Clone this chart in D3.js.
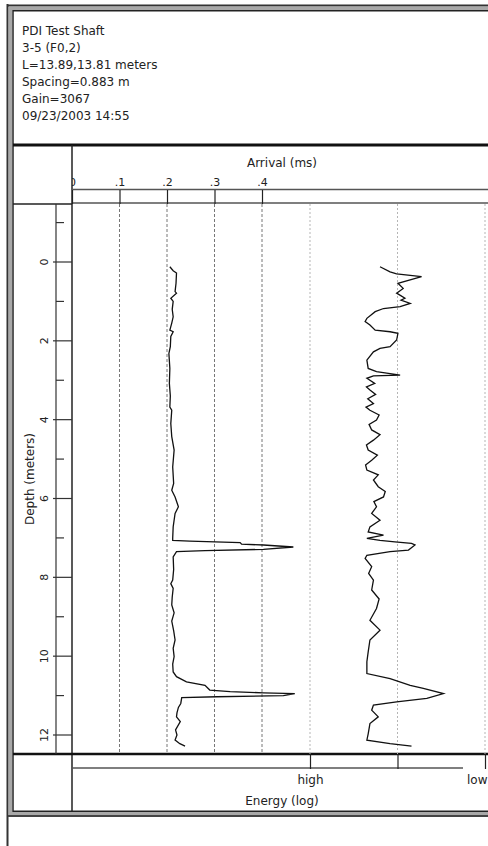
<!DOCTYPE html>
<html>
<head>
<meta charset="utf-8">
<script src="https://cdn.jsdelivr.net/npm/d3@7/dist/d3.min.js"></script>
<style>
  body { margin: 0; background: #fff; }
  svg { display: block; }
  text { font-family: "DejaVu Sans", Verdana, sans-serif; fill: #222; }
</style>
</head>
<body>
<svg id="chart" width="488" height="846"></svg>
<script>
// header lines
const headerLines = ["PDI Test Shaft", "3-5 (F0,2)", "L=13.89,13.81 meters",
  "Spacing=0.883 m", "Gain=3067", "09/23/2003 14:55"];

// first arrival time (ms) vs depth (m)
const arrivalDepth = [0.12, 0.22, 0.28, 0.54, 0.75, 0.79, 0.92, 1.00, 1.20, 1.39, 1.55, 1.73, 1.77, 1.89,
  2.15, 2.32, 2.70, 3.08, 3.40, 3.68, 3.76, 4.10, 4.43, 4.77, 5.20, 5.62, 5.79, 5.96, 6.21, 6.38, 6.72,
  7.01, 7.06, 7.08, 7.12, 7.16, 7.18, 7.23, 7.29, 7.32, 7.35, 7.48, 7.80, 8.07, 8.16, 8.28, 8.50, 8.70,
  8.90, 9.11, 9.35, 9.59, 9.80, 10.01, 10.20, 10.40, 10.52, 10.65, 10.74, 10.86, 10.90, 10.93, 10.95,
  11.00, 11.03, 11.05, 11.20, 11.30, 11.44, 11.54, 11.66, 11.87, 12.00, 12.13, 12.22, 12.28];
const arrivalTime = [0.206, 0.213, 0.220, 0.219, 0.217, 0.220, 0.208, 0.213, 0.211, 0.213, 0.210, 0.206,
  0.213, 0.208, 0.207, 0.204, 0.206, 0.205, 0.207, 0.206, 0.210, 0.208, 0.210, 0.215, 0.212, 0.214,
  0.210, 0.217, 0.224, 0.217, 0.213, 0.212, 0.212, 0.248, 0.354, 0.357, 0.403, 0.466, 0.403, 0.280,
  0.220, 0.213, 0.214, 0.212, 0.208, 0.213, 0.211, 0.210, 0.215, 0.210, 0.214, 0.217, 0.213, 0.215,
  0.212, 0.213, 0.220, 0.241, 0.280, 0.290, 0.333, 0.403, 0.469, 0.445, 0.305, 0.231, 0.229, 0.224,
  0.221, 0.220, 0.228, 0.218, 0.221, 0.217, 0.227, 0.238];

// relative energy (dB below "high") vs depth (m)
const energyDepth = [0.12, 0.25, 0.30, 0.37, 0.54, 0.67, 0.79, 0.92, 0.97, 1.05, 1.13, 1.18, 1.26, 1.43,
  1.51, 1.60, 1.73, 1.77, 1.81, 1.98, 2.15, 2.19, 2.28, 2.49, 2.70, 2.78, 2.83, 2.87, 2.89, 2.95, 3.08,
  3.17, 3.25, 3.36, 3.47, 3.59, 3.68, 3.76, 3.88, 4.01, 4.12, 4.26, 4.38, 4.52, 4.64, 4.77, 4.90, 5.03,
  5.15, 5.28, 5.40, 5.53, 5.70, 5.82, 5.96, 6.08, 6.21, 6.38, 6.55, 6.72, 6.85, 6.93, 7.01, 7.06, 7.10,
  7.14, 7.18, 7.31, 7.35, 7.44, 7.52, 7.73, 7.90, 8.07, 8.32, 8.55, 8.79, 9.09, 9.34, 9.59, 9.89, 10.14,
  10.44, 10.57, 10.74, 10.82, 10.95, 11.07, 11.16, 11.24, 11.37, 11.54, 11.71, 11.97, 12.13, 12.22, 12.28];
const energyDb = [-16.0, -18.3, -19.8, -25.5, -20.1, -21.3, -19.8, -21.7, -20.8, -22.9, -20.6, -16.8,
  -14.9, -13.0, -12.6, -13.7, -14.9, -18.3, -20.1, -19.8, -18.3, -16.0, -14.5, -13.0, -13.3, -15.2, -18.3,
  -20.6, -14.5, -13.0, -14.8, -12.9, -13.7, -15.0, -13.2, -14.5, -12.8, -13.7, -15.8, -15.2, -13.5, -14.1,
  -16.0, -14.5, -12.9, -13.3, -15.4, -14.1, -12.7, -13.0, -15.6, -14.5, -15.6, -17.2, -16.8, -14.6, -15.2,
  -14.1, -16.0, -13.7, -13.3, -16.8, -13.0, -16.0, -19.4, -23.2, -24.0, -22.5, -18.3, -13.0, -12.6, -14.1,
  -13.4, -14.5, -14.1, -15.8, -15.2, -13.7, -16.0, -13.7, -13.3, -13.0, -13.0, -18.3, -22.9, -25.9, -30.5,
  -26.7, -19.8, -14.5, -14.1, -15.6, -13.7, -13.3, -13.0, -18.3, -23.2];

// axis ticks
const arrivalTicks = [0, 0.1, 0.2, 0.3, 0.4];
const depthMajor = [0, 2, 4, 6, 8, 10, 12];
const depthMinor = [-1, 1, 3, 5, 7, 9, 11];
const energyTicks = [0, -20, -40];
const energyTickLabels = ["high", "", "low"];

const W = 488, H = 846;
const PLOT_LEFT = 72, PLOT_TOP = 204, PLOT_BOTTOM = 754;
const DEPTH_AXIS_X = 56;

const svg = d3.select("#chart");
svg.append("rect").attr("width", W).attr("height", H).attr("fill", "#fff");

// clip for the axis labels so the "0" is cut by the left panel like in the original
svg.append("defs").append("clipPath").attr("id", "plotclip")
  .append("rect").attr("x", PLOT_LEFT).attr("y", 145).attr("width", W - PLOT_LEFT).attr("height", 670);

const xScale = d3.scaleLinear().domain([0, 0.4]).range([PLOT_LEFT, 262]); // arrival, ms
const yScale = d3.scaleLinear().domain([0, 12]).range([262, 735]);        // depth, m
const eScale = d3.scaleLinear().domain([0, -40]).range([310, 485]);       // energy, dB

// window frame
svg.append("line").attr("x1", 7.5).attr("x2", 7.5).attr("y1", 4).attr("y2", H)
  .attr("stroke", "#333").attr("stroke-width", 2);
svg.append("line").attr("x1", 7).attr("x2", W).attr("y1", 5.5).attr("y2", 5.5)
  .attr("stroke", "#333").attr("stroke-width", 2);
svg.append("rect").attr("x", 9).attr("y", 7).attr("width", 3).attr("height", 808).attr("fill", "#a8a8a8");
svg.append("rect").attr("x", 9).attr("y", 7).attr("width", W - 9).attr("height", 3).attr("fill", "#a8a8a8");
svg.append("rect").attr("x", 9).attr("y", 812).attr("width", W - 9).attr("height", 3).attr("fill", "#a8a8a8");
svg.append("line").attr("x1", 8).attr("x2", W).attr("y1", 816).attr("y2", 816)
  .attr("stroke", "#444").attr("stroke-width", 2);
svg.append("rect").attr("x", 13).attr("y", 10.75).attr("width", W).attr("height", 800.5)
  .attr("fill", "none").attr("stroke", "#222").attr("stroke-width", 1.5);

// header text
svg.append("g").selectAll("text").data(headerLines).join("text")
  .attr("x", 22).attr("y", (d, i) => 35 + i * 17)
  .style("font-size", "12px")
  .text(d => d);

// panel dividers
svg.append("line").attr("x1", 13).attr("x2", W).attr("y1", 145).attr("y2", 145)
  .attr("stroke", "#111").attr("stroke-width", 3);
svg.append("line").attr("x1", PLOT_LEFT).attr("x2", PLOT_LEFT).attr("y1", 145).attr("y2", 811)
  .attr("stroke", "#222").attr("stroke-width", 1.5);
svg.append("line").attr("x1", 13).attr("x2", PLOT_LEFT).attr("y1", PLOT_TOP).attr("y2", PLOT_TOP)
  .attr("stroke", "#222").attr("stroke-width", 1.5);
[189.5, 203].forEach(y => svg.append("line").attr("x1", PLOT_LEFT).attr("x2", W).attr("y1", y).attr("y2", y)
  .attr("stroke", "#555").attr("stroke-width", 1.5));
svg.append("line").attr("x1", 13).attr("x2", W).attr("y1", PLOT_BOTTOM).attr("y2", PLOT_BOTTOM)
  .attr("stroke", "#111").attr("stroke-width", 2.5);

// grid lines
svg.append("g").selectAll("line").data(arrivalTicks.slice(1)).join("line")
  .attr("x1", d => xScale(d)).attr("x2", d => xScale(d))
  .attr("y1", PLOT_TOP).attr("y2", PLOT_BOTTOM)
  .attr("stroke", "#777").attr("stroke-dasharray", "3,2");
svg.append("g").selectAll("line").data(energyTicks).join("line")
  .attr("x1", d => eScale(d)).attr("x2", d => eScale(d))
  .attr("y1", PLOT_TOP).attr("y2", PLOT_BOTTOM)
  .attr("stroke", "#b5b5b5").attr("stroke-dasharray", "2,2");

// arrival axis (top)
const xAxis = d3.axisTop(xScale).tickValues(arrivalTicks).tickSize(14).tickPadding(4)
  .tickFormat(d => d === 0 ? "0" : d3.format(".1f")(d).replace("0.", "."));
const gx = svg.append("g").attr("clip-path", "url(#plotclip)")
  .append("g").attr("transform", "translate(0," + PLOT_TOP + ")")
  .call(xAxis);
gx.select(".domain").remove();
gx.selectAll(".tick line").attr("stroke", "#222").attr("stroke-width", 1.2);
gx.selectAll(".tick text").style("font-size", "11px").style("font-family", "DejaVu Sans").attr("fill", "#222");
svg.append("text").attr("x", 282).attr("y", 167).attr("text-anchor", "middle")
  .style("font-size", "12px").text("Arrival (ms)");

// depth axis (left)
svg.append("line").attr("x1", DEPTH_AXIS_X).attr("x2", DEPTH_AXIS_X).attr("y1", PLOT_TOP).attr("y2", PLOT_BOTTOM)
  .attr("stroke", "#333").attr("stroke-width", 1.2);
svg.append("g").selectAll("line").data(depthMajor).join("line")
  .attr("x1", 53).attr("x2", PLOT_LEFT).attr("y1", d => yScale(d)).attr("y2", d => yScale(d))
  .attr("stroke", "#333").attr("stroke-width", 1.2);
svg.append("g").selectAll("line").data(depthMinor).join("line")
  .attr("x1", DEPTH_AXIS_X).attr("x2", 64).attr("y1", d => yScale(d)).attr("y2", d => yScale(d))
  .attr("stroke", "#333").attr("stroke-width", 1.2);
svg.append("g").selectAll("text").data(depthMajor).join("text")
  .attr("transform", d => "translate(48," + yScale(d) + ") rotate(-90)")
  .attr("text-anchor", "middle")
  .style("font-size", "11px").text(d => d);
svg.append("text").attr("transform", "translate(34," + (PLOT_TOP + PLOT_BOTTOM) / 2 + ") rotate(-90)")
  .attr("text-anchor", "middle").style("font-size", "12px").text("Depth (meters)");

// energy axis (bottom)
svg.append("line").attr("x1", PLOT_LEFT).attr("x2", 463).attr("y1", 768).attr("y2", 768)
  .attr("stroke", "#555").attr("stroke-width", 1.5);
const eAxis = d3.axisBottom(eScale).tickValues(energyTicks).tickSize(15).tickPadding(6)
  .tickFormat((d, i) => energyTickLabels[i]);
const ge = svg.append("g").attr("transform", "translate(0," + PLOT_BOTTOM + ")")
  .call(eAxis);
ge.select(".domain").remove();
ge.selectAll(".tick line").attr("stroke", "#222").attr("stroke-width", 1.2);
ge.selectAll(".tick text").style("font-size", "12px").style("font-family", "DejaVu Sans").attr("fill", "#222")
  .filter(d => d === -40).attr("text-anchor", "end").attr("x", W - eScale(-40) - 1);
svg.append("text").attr("x", 282).attr("y", 805).attr("text-anchor", "middle")
  .style("font-size", "12px").text("Energy (log)");

// traces
const arrivalLine = d3.line().x(d => xScale(d[1])).y(d => yScale(d[0]));
svg.append("path").datum(d3.zip(arrivalDepth, arrivalTime))
  .attr("d", arrivalLine).attr("fill", "none").attr("stroke", "#111").attr("stroke-width", 1.3);

const energyLine = d3.line().x(d => eScale(d[1])).y(d => yScale(d[0]));
svg.append("path").datum(d3.zip(energyDepth, energyDb))
  .attr("d", energyLine).attr("fill", "none").attr("stroke", "#111").attr("stroke-width", 1.3);
</script>
</body>
</html>
